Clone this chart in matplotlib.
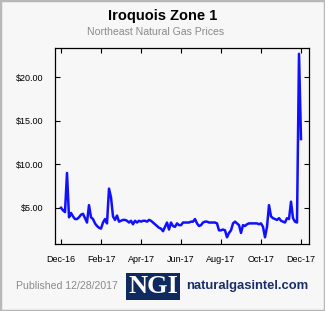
import matplotlib
matplotlib.use("Agg")
import matplotlib.pyplot as plt
from matplotlib.patches import Rectangle
from matplotlib.ticker import FuncFormatter
import numpy as np

# Iroquois Zone 1 daily prices, sampled roughly every few trading days
prices = [
    5.0, 4.7, 4.5, 9.0, 3.9, 4.4, 4.0, 3.7, 3.7, 3.9,
    4.2, 4.3, 3.8, 3.3, 5.3, 3.9, 3.7, 3.2, 2.9, 2.7,
    2.6, 3.3, 3.7, 3.2, 7.2, 6.2, 4.0, 3.6, 4.1, 3.4,
    3.5, 3.6, 3.6, 3.5, 3.3, 3.5, 3.1, 3.5, 3.3, 3.5,
    3.4, 3.5, 3.5, 3.4, 3.6, 3.5, 3.3, 3.1, 2.9, 2.7,
    2.6, 2.3, 2.8, 3.3, 2.5, 3.3, 2.9, 2.8, 3.2, 3.0,
    3.0, 3.3, 3.3, 3.3, 3.3, 3.4, 3.4, 3.7, 3.2, 2.9,
    3.0, 3.3, 3.4, 3.4, 3.3, 3.3, 3.3, 3.3, 3.2, 2.4,
    2.4, 2.5, 2.4, 1.6, 2.1, 2.4, 3.2, 3.4, 3.2, 3.0,
    2.1, 3.0, 2.9, 3.1, 3.2, 3.2, 3.2, 3.2, 3.2, 3.1,
    3.2, 2.8, 1.6, 2.8, 5.3, 4.0, 3.8, 3.7, 3.6, 3.8,
    3.5, 3.4, 3.3, 3.8, 3.7, 5.7, 3.8, 3.4, 3.3, 22.7,
    12.9,
]
month_labels = ["Dec-16", "Feb-17", "Apr-17", "Jun-17", "Aug-17", "Oct-17", "Dec-17"]
y_ticks = [5, 10, 15, 20]

plt.rcParams["font.family"] = ["Liberation Sans", "DejaVu Sans"]

W, H = 325, 311
fig = plt.figure(figsize=(W / 100, H / 100), dpi=100, facecolor="#f7f7f7")

# outer border
fig.patches.append(Rectangle((0, 0), 1, 1, transform=fig.transFigure,
                             facecolor="none", edgecolor="#b8b8b8", linewidth=2.5))

ax = fig.add_axes([55 / W, (H - 244) / H, 254 / W, 196 / H])
ax.set_facecolor("#f7f7f7")

x = np.arange(len(prices))
ax.plot(x, prices, color="#1010ff", linewidth=1.8, solid_joinstyle="round")

ax.set_xlim(-3, 124)
ax.set_ylim(0.83, 23.37)
ax.set_xticks(np.linspace(0, len(prices) - 1, len(month_labels)))
ax.set_xticklabels(month_labels)
ax.set_yticks(y_ticks)
ax.yaxis.set_major_formatter(FuncFormatter(lambda v, p: f"${v:.2f}"))

ax.tick_params(direction="in", length=3.6, width=0.8, top=True, right=True,
               labelsize=6.5, colors="black")
ax.tick_params(axis="y", pad=8.4)
ax.tick_params(axis="x", pad=8.0)
for s in ax.spines.values():
    s.set_linewidth(0.9)

# titles
fig.text(0.5, 1 - 15.7 / H, "Iroquois Zone 1", ha="center", va="center",
         fontsize=10.5, fontweight="bold", color="black")
fig.text(155.5 / W, 1 - 32.3 / H, "Northeast Natural Gas Prices", ha="center",
         va="center", fontsize=7.6, color="#8a8a8a")

# footer
fig.text(16 / W, 1 - 285.7 / H, "Published 12/28/2017", ha="left", va="center",
         fontsize=7.6, color="#8a8a8a")
fig.patches.append(Rectangle((126 / W, 1 - 300 / H), 54 / W, 27 / H,
                             transform=fig.transFigure, facecolor="#0e2a5e",
                             edgecolor="none"))
fig.text(153 / W, 1 - 286.5 / H, "NGI", ha="center", va="center",
         fontsize=19, fontweight="bold", color="white",
         family=["Liberation Serif", "DejaVu Serif"])
fig.text(186 / W, 1 - 285.7 / H, "naturalgasintel.com", ha="left", va="center",
         fontsize=9.4, fontweight="bold", color="#1a2d6b")

fig.savefig("out.png", dpi=100, facecolor=fig.get_facecolor())
